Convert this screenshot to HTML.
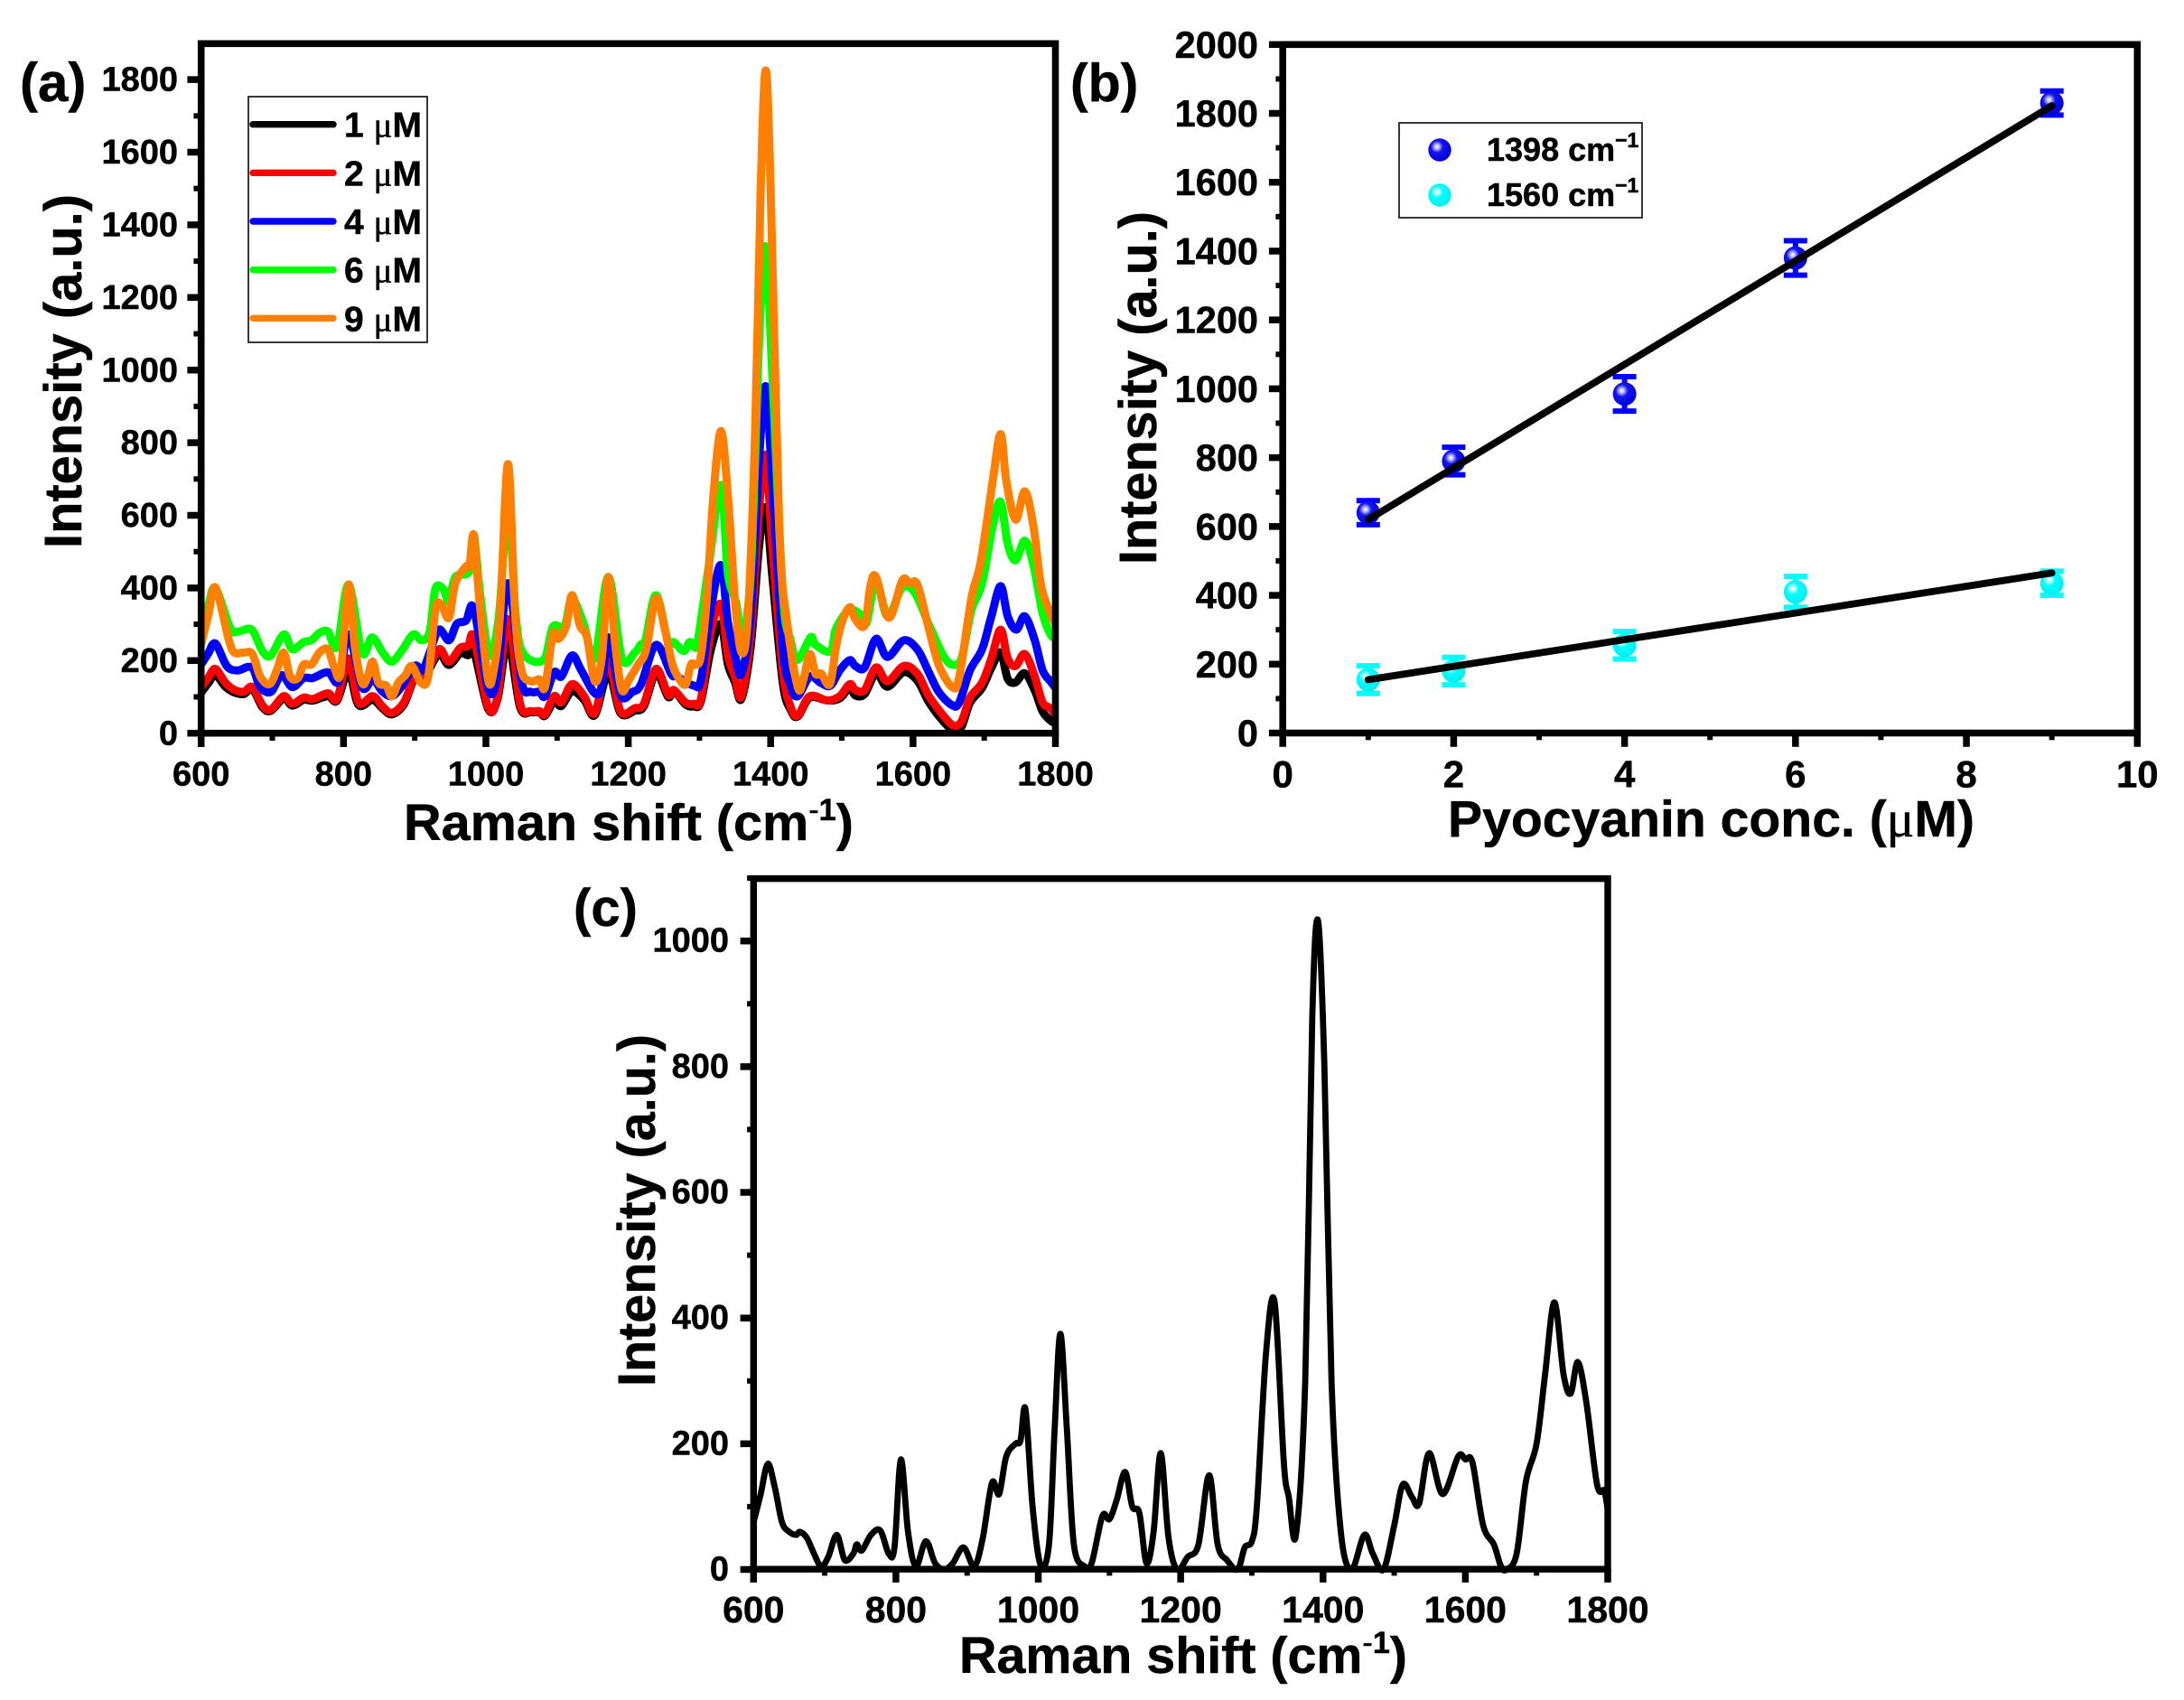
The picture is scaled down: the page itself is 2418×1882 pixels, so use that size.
<!DOCTYPE html>
<html lang="en">
<head>
<meta charset="utf-8">
<title>Raman spectra of pyocyanin</title>
<style>
html,body{margin:0;padding:0;background:#fff;}
svg{display:block;}
text{font-family:"Liberation Sans",Arial,sans-serif;font-weight:700;fill:#000;stroke:#000;stroke-width:.5px;}
.mu{font-family:"Liberation Serif",serif;font-weight:400;}
</style>
</head>
<body>
<svg id="figure" xmlns="http://www.w3.org/2000/svg" width="2418" height="1882" viewBox="0 0 2418 1882">
  <defs>
    <radialGradient id="ballBlue" cx="38%" cy="36%" r="62%">
      <stop offset="0" stop-color="#ffffff"/><stop offset="0.14" stop-color="#c8c8ff"/><stop offset="0.42" stop-color="#1414f0"/><stop offset="1" stop-color="#0000d8"/>
    </radialGradient>
    <radialGradient id="ballCyan" cx="38%" cy="36%" r="62%">
      <stop offset="0" stop-color="#ffffff"/><stop offset="0.14" stop-color="#c8ffff"/><stop offset="0.42" stop-color="#00ffff"/><stop offset="1" stop-color="#00eeee"/>
    </radialGradient>
    <clipPath id="clipA"><rect x="223" y="48" width="946" height="764"/></clipPath>
    <clipPath id="clipC"><rect x="834" y="972" width="946" height="770"/></clipPath>
  </defs>
  <rect width="2418" height="1882" fill="#fff"/>
  <g id="panelA"></g>
  <g id="panelB"></g>
  <g id="panelC"></g>

  <text x="22" y="112" font-size="60">(a)</text>
  <text x="1185" y="112" font-size="59">(b)</text>
  <text x="635" y="1025" font-size="58">(c)</text>

  <text font-size="58" transform="translate(90,607) rotate(-90)" textLength="392" lengthAdjust="spacingAndGlyphs">Intensity (a.u.)</text>
  <text x="447" y="930" font-size="57" textLength="498" lengthAdjust="spacingAndGlyphs">Raman shift (cm<tspan font-size="34" dy="-22" font-weight="400">-</tspan><tspan font-size="34" dy="0">1</tspan><tspan dy="22">)</tspan></text>

  <text font-size="58" transform="translate(1280,625) rotate(-90)" textLength="391" lengthAdjust="spacingAndGlyphs">Intensity (a.u.)</text>
  <text x="1603" y="926" font-size="57" textLength="583" lengthAdjust="spacingAndGlyphs">Pyocyanin conc. (<tspan class="mu">μ</tspan>M)</text>

  <text font-size="58" transform="translate(725,1535) rotate(-90)" textLength="390" lengthAdjust="spacingAndGlyphs">Intensity (a.u.)</text>
  <text x="1062" y="1852" font-size="57" textLength="496" lengthAdjust="spacingAndGlyphs">Raman shift (cm<tspan font-size="34" dy="-22" font-weight="400">-</tspan><tspan font-size="34" dy="0">1</tspan><tspan dy="22">)</tspan></text>

  <g>
    <rect x="275" y="107" width="198" height="272" fill="#fff" stroke="#222" stroke-width="1.8"/>
  </g>
  <g id="legendA"></g>

  <g>
    <rect x="1549" y="136" width="269" height="105" fill="#fff" stroke="#222" stroke-width="1.8"/>
    <circle cx="1594" cy="166" r="12.7" fill="url(#ballBlue)"/>
    <circle cx="1594" cy="216" r="12.7" fill="url(#ballCyan)"/>
    <text x="1646" y="178" font-size="36">1398 cm<tspan font-size="23" dy="-15">−1</tspan></text>
    <text x="1646" y="228" font-size="36">1560 cm<tspan font-size="23" dy="-15">−1</tspan></text>
  </g>
</svg>

<script>
// ---------- Panel (a) data, 1 uM to 9 uM ----------
const xTicksRaman = [600, 800, 1000, 1200, 1400, 1600, 1800];
const xMinorRaman = [700, 900, 1100, 1300, 1500, 1700];
const yTicksA = [0, 200, 400, 600, 800, 1000, 1200, 1400, 1600, 1800];
const yMinorA = [100, 300, 500, 700, 900, 1100, 1300, 1500, 1700];
const legendLabelsA = ['1', '2', '4', '6', '9'];
const seriesColorsA = ['#000000', '#ff0000', '#0000ff', '#00ff00', '#ff8000'];

const shift1uM = [600,610,620,634,647,660,672,686,698,716,728,744,757,778,791,807,821,841,855,868,885,900,915,934,948,964,975,983,1003,1016,1031,1048,1063,1075,1083,1096,1106,1121,1138,1153,1172,1189,1209,1222,1239,1256,1264,1280,1292,1302,1316,1330,1340,1350,1359,1372,1384,1393,1402,1417,1428,1438,1455,1480,1497,1511,1519,1532,1548,1564,1587,1606,1621,1636,1655,1668,1680,1697,1710,1723,1733,1744,1757,1771,1782,1793,1800];
const int1uM = [112,138,160,128,112,108,122,72,62,96,76,92,90,102,90,170,78,92,68,52,80,152,160,218,188,220,215,228,68,92,250,72,58,58,48,88,75,115,92,50,165,56,62,75,165,100,118,80,74,88,230,300,190,140,95,240,520,620,440,140,65,46,98,90,96,125,104,108,165,128,168,145,90,48,10,18,84,125,180,222,150,140,165,118,60,35,28];

const shift2uM = [600,610,620,634,647,660,672,686,698,716,728,744,757,778,791,807,821,841,855,868,885,900,915,934,948,964,975,983,1003,1016,1031,1048,1063,1075,1083,1096,1106,1121,1138,1153,1172,1189,1209,1222,1239,1256,1264,1280,1292,1302,1316,1330,1340,1350,1359,1372,1384,1393,1402,1417,1428,1438,1455,1480,1497,1511,1519,1532,1548,1564,1587,1606,1621,1636,1655,1668,1680,1697,1710,1723,1733,1744,1757,1771,1782,1793,1800];
const int2uM = [127,153,177,139,119,114,127,77,65,102,81,98,94,110,94,206,85,102,73,56,85,156,165,231,197,235,240,264,73,98,314,81,61,61,52,102,85,135,102,56,193,61,69,81,177,106,119,85,81,94,280,355,214,156,102,280,620,765,520,173,73,48,102,90,102,135,119,119,181,143,185,164,106,65,23,32,98,139,206,285,206,185,218,156,85,69,50];

const shift4uM = [600,610,620,636,651,671,683,698,713,728,744,757,778,793,807,826,841,855,868,881,900,911,921,934,948,959,972,983,1003,1016,1031,1050,1063,1075,1083,1096,1106,1121,1134,1153,1163,1172,1189,1206,1218,1239,1260,1268,1292,1302,1316,1330,1340,1350,1359,1372,1384,1393,1402,1417,1428,1438,1455,1470,1484,1497,1511,1519,1532,1548,1564,1587,1606,1621,1636,1655,1665,1680,1697,1710,1723,1733,1745,1757,1771,1782,1793,1800];
const int4uM = [189,220,247,185,173,181,127,114,160,127,152,152,168,143,272,127,148,114,102,127,185,173,222,285,256,301,310,343,123,156,413,143,114,114,102,168,156,214,173,110,131,264,106,114,135,243,164,156,131,148,339,463,305,214,164,330,760,955,700,239,131,102,156,139,131,173,201,185,181,260,210,256,231,173,114,77,85,173,231,322,405,322,285,322,256,173,143,125];

const shift6uM = [600,610,620,641,652,671,686,698,716,728,744,755,766,778,791,807,826,840,855,868,883,898,910,921,929,940,948,957,977,983,992,1005,1018,1031,1042,1053,1081,1094,1110,1121,1138,1153,1172,1191,1209,1217,1224,1239,1256,1264,1278,1286,1292,1298,1315,1330,1340,1352,1359,1372,1384,1393,1402,1417,1428,1438,1456,1463,1484,1492,1510,1527,1535,1548,1564,1585,1602,1621,1636,1645,1655,1668,1682,1697,1712,1723,1733,1744,1757,1769,1782,1793,1800];
const int6uM = [300,352,400,289,280,285,226,214,272,231,251,256,276,280,239,409,222,264,222,197,231,272,256,280,397,397,363,430,447,546,380,214,320,621,320,218,202,293,293,370,297,206,430,206,222,243,256,380,251,251,226,251,239,260,488,683,440,355,256,440,1090,1340,1000,388,256,202,264,243,226,289,339,326,305,421,322,401,388,305,239,206,189,206,339,413,571,637,521,476,530,463,330,272,262];

const shift9uM = [600,610,620,639,647,660,672,683,696,706,716,725,736,744,755,766,778,787,796,807,816,826,834,841,849,860,868,877,887,896,909,919,929,937,948,957,972,977,983,991,1003,1011,1020,1031,1041,1050,1063,1075,1083,1094,1102,1113,1121,1132,1142,1153,1163,1172,1182,1191,1201,1214,1225,1239,1252,1262,1272,1281,1288,1295,1302,1311,1319,1330,1340,1350,1359,1368,1378,1386,1393,1400,1412,1423,1438,1446,1455,1463,1471,1483,1492,1500,1511,1519,1532,1540,1548,1566,1585,1595,1606,1621,1636,1655,1665,1682,1695,1712,1723,1731,1744,1757,1769,1780,1793,1800];
const int9uM = [245,325,401,256,222,222,218,156,135,172,222,156,152,189,189,222,231,181,168,409,239,139,156,197,139,131,102,139,160,185,139,156,339,355,318,413,459,462,546,363,148,173,330,741,330,173,143,148,127,272,260,297,380,297,264,143,210,430,239,119,148,189,230,372,280,189,148,135,189,189,214,388,640,832,654,363,222,320,820,1500,1825,1500,571,305,127,148,218,164,164,135,239,305,347,314,297,405,430,318,421,412,410,297,189,127,156,372,471,695,824,695,588,666,571,405,330,300];

// ---------- Panel (b) data ----------
const concTicks = [0, 2, 4, 6, 8, 10];
const concMinor = [1, 3, 5, 7, 9];
const yTicksB = [0, 200, 400, 600, 800, 1000, 1200, 1400, 1600, 1800, 2000];
const yMinorB = [100, 300, 500, 700, 900, 1100, 1300, 1500, 1700, 1900];
const concentrations = [1, 2, 4, 6, 9];
const peak1398 = [640, 790, 985, 1380, 1830];
const err1398 = [35, 40, 50, 50, 35];
const peak1560 = [155, 180, 255, 410, 435];
const err1560 = [40, 40, 40, 45, 35];
const fitX = [1, 9];
const fit1398 = [620, 1822];
const fit1560 = [155, 465];

// ---------- Panel (c) data ----------
const yTicksC = [0, 200, 400, 600, 800, 1000];
const yMinorC = [100, 300, 500, 700, 900, 1100];
const shiftC = [600,610,620,630,640,650,660,665,675,685,695,705,717,728,740,745,752,765,778,790,798,807,817,828,842,855,868,880,895,910,922,935,945,955,968,975,982,992,1003,1015,1023,1031,1040,1050,1065,1075,1090,1100,1110,1122,1132,1142,1152,1162,1172,1183,1195,1210,1225,1240,1252,1265,1280,1290,1300,1307,1320,1332,1345,1352,1362,1375,1385,1393,1402,1412,1425,1440,1458,1470,1485,1500,1512,1525,1535,1549,1568,1590,1600,1610,1625,1640,1650,1658,1672,1685,1700,1712,1725,1738,1748,1758,1770,1785,1795,1800];
const intC = [75,120,168,130,75,60,55,60,50,25,5,20,55,15,25,40,30,55,62,25,35,175,60,5,45,10,0,10,35,5,50,138,120,180,200,205,255,100,8,40,225,375,225,40,5,10,85,80,110,155,100,90,10,60,185,50,0,20,40,150,40,15,0,35,45,100,345,425,170,115,55,300,880,1032,800,300,60,0,55,25,0,70,135,115,105,185,120,180,175,170,70,40,5,0,25,140,200,310,425,310,280,330,265,135,125,95];

// ---------- Axis geometry and scales ----------
const SVGNS = 'http://www.w3.org/2000/svg';
const geoA = {left:222.7, right:1168.5, top:48.3, bottom:811.7, xMin:600, xMax:1800, yZero:811.7, yPerUnit:0.402};
const geoB = {left:1420.2, right:2366.3, top:49.3, bottom:811.5, xMin:0, xMax:10, yZero:811.5, yPerUnit:0.3811};
const geoC = {left:834.3, right:1780, top:972.7, bottom:1737.2, xMin:600, xMax:1800, yZero:1737.5, yPerUnit:0.6958};
function xScale(g, v) { return g.left + (v - g.xMin) / (g.xMax - g.xMin) * (g.right - g.left); }
function yScale(g, v) { return g.yZero - v * g.yPerUnit; }

function make(tag, parent, name, interactable) {
  const el = document.createElementNS(SVGNS, tag);
  
  
  parent.appendChild(el);
  return el;
}
function drawLine(parent, name, x1, y1, x2, y2, w, color) {
  const l = make('line', parent, name, 'false');
  l.setAttribute('x1', x1); l.setAttribute('y1', y1);
  l.setAttribute('x2', x2); l.setAttribute('y2', y2);
  l.setAttribute('stroke', color || '#000');
  l.setAttribute('stroke-width', w);
  return l;
}
function drawText(parent, name, x, y, size, anchor, str) {
  const t = make('text', parent, name, 'false');
  t.setAttribute('x', x); t.setAttribute('y', y);
  t.setAttribute('font-size', size);
  t.setAttribute('text-anchor', anchor);
  t.textContent = str;
  return t;
}
function drawFrame(parent, g, opt) {
  const frame = make('rect', parent, 'plot-frame', 'false');
  frame.setAttribute('x', g.left); frame.setAttribute('y', g.top);
  frame.setAttribute('width', g.right - g.left); frame.setAttribute('height', g.bottom - g.top);
  frame.setAttribute('fill', 'none');
  frame.setAttribute('stroke', '#000');
  frame.setAttribute('stroke-width', opt.frameW);
}
function drawAxes(parent, g, opt) {
  const half = opt.frameW / 2;
  opt.xTicks.forEach(function (v) {
    const x = xScale(g, v);
    drawLine(parent, 'x-tick-' + v, x, g.bottom, x, g.bottom + half + opt.major, 7.5);
    drawText(parent, 'x-tick-label-' + v, x + (opt.xLabelDx || 0), opt.xBase, opt.xFont, 'middle', String(v));
  });
  opt.xMinor.forEach(function (v) {
    const x = xScale(g, v);
    drawLine(parent, 'x-minor-tick-' + v, x, g.bottom, x, g.bottom + half + opt.minor, 6);
  });
  opt.yTicks.forEach(function (v) {
    const y = yScale(g, v);
    drawLine(parent, 'y-tick-' + v, g.left, y, g.left - half - opt.major, y, 7.5);
    drawText(parent, 'y-tick-label-' + v, opt.yLabelX, y + opt.yDy, opt.yFont, 'end', String(v));
  });
  opt.yMinor.forEach(function (v) {
    const y = yScale(g, v);
    drawLine(parent, 'y-minor-tick-' + v, g.left, y, g.left - half - opt.minor, y, 6);
  });
}
// Smooth curve through the data points (Catmull-Rom converted to Bezier)
function curvePath(g, xs, ys) {
  const pts = xs.map(function (x, i) { return [xScale(g, x), yScale(g, ys[i])]; });
  let d = 'M' + pts[0][0].toFixed(1) + ' ' + pts[0][1].toFixed(1);
  for (let i = 0; i < pts.length - 1; i++) {
    const p0 = pts[Math.max(i - 1, 0)], p1 = pts[i], p2 = pts[i + 1], p3 = pts[Math.min(i + 2, pts.length - 1)];
    const c1x = p1[0] + (p2[0] - p0[0]) / 6, c1y = p1[1] + (p2[1] - p0[1]) / 6;
    const c2x = p2[0] - (p3[0] - p1[0]) / 6, c2y = p2[1] - (p3[1] - p1[1]) / 6;
    d += 'C' + c1x.toFixed(1) + ' ' + c1y.toFixed(1) + ' ' + c2x.toFixed(1) + ' ' + c2y.toFixed(1) + ' ' + p2[0].toFixed(1) + ' ' + p2[1].toFixed(1);
  }
  return d;
}
function drawCurve(parent, g, name, xs, ys, color, w, clip) {
  const p = make('path', parent, name, 'false');
  p.setAttribute('d', curvePath(g, xs, ys));
  p.setAttribute('fill', 'none');
  p.setAttribute('stroke', color);
  p.setAttribute('stroke-width', w);
  p.setAttribute('stroke-linejoin', 'round');
  p.setAttribute('stroke-linecap', 'round');
  p.setAttribute('clip-path', 'url(#' + clip + ')');
}

// ---------- Panel (a) ----------
const panelA = document.getElementById('panelA');
const curvesA = [[shift1uM, int1uM], [shift2uM, int2uM], [shift4uM, int4uM], [shift6uM, int6uM], [shift9uM, int9uM]];
curvesA.forEach(function (c, i) {
  drawCurve(panelA, geoA, 'spectrum-' + legendLabelsA[i] + '-um', c[0], c[1], seriesColorsA[i], 9, 'clipA');
});
drawFrame(panelA, geoA, {frameW: 7.6});
drawAxes(panelA, geoA, {frameW: 7.6, major: 11.5, minor: 4.5, xTicks: xTicksRaman, xMinor: xMinorRaman, yTicks: yTicksA, yMinor: yMinorA, xBase: 869.5, xFont: 38, yLabelX: 197, yDy: 12.6, yFont: 38});

const legendA = document.getElementById('legendA');
legendLabelsA.forEach(function (lab, i) {
  const rowY = 137.7 + i * 53.65;
  const ln = drawLine(legendA, 'legend-line-' + lab + '-um', 280, rowY, 369, rowY, 7.4, seriesColorsA[i]);
  ln.setAttribute('stroke-linecap', 'round');
  const t = drawText(legendA, 'legend-label-' + lab + '-um', 381, rowY + 14, 39, 'start', lab + '\u00a0');
  const mu = document.createElementNS(SVGNS, 'tspan');
  mu.setAttribute('class', 'mu');
  mu.textContent = '\u03bc';
  t.appendChild(mu);
  t.appendChild(document.createTextNode('M'));
});

// ---------- Panel (b) ----------
const panelB = document.getElementById('panelB');
drawFrame(panelB, geoB, {frameW: 7.6});
drawAxes(panelB, geoB, {frameW: 7.6, major: 11.5, minor: 4, xTicks: concTicks, xMinor: concMinor, yTicks: yTicksB, yMinor: yMinorB, xBase: 871.5, xFont: 42, yLabelX: 1393, yDy: 14.5, yFont: 41.5});
function drawPoints(parent, g, tag, xs, ys, errs, color, fill) {
  xs.forEach(function (v, i) {
    const px = xScale(g, v);
    const top = yScale(g, ys[i] + errs[i]), bot = yScale(g, ys[i] - errs[i]);
    drawLine(parent, tag + '-error-bar-' + v, px, top, px, bot, 6, color);
    drawLine(parent, tag + '-error-cap-top-' + v, px - 13, top, px + 13, top, 6, color);
    drawLine(parent, tag + '-error-cap-bottom-' + v, px - 13, bot, px + 13, bot, 6, color);
    const dot = make('circle', parent, tag + '-point-' + v, 'false');
    dot.setAttribute('cx', px);
    dot.setAttribute('cy', yScale(g, ys[i]));
    dot.setAttribute('r', 13);
    dot.setAttribute('fill', fill);
  });
}
drawPoints(panelB, geoB, 'peak-1398', concentrations, peak1398, err1398, '#0000ff', 'url(#ballBlue)');
drawPoints(panelB, geoB, 'peak-1560', concentrations, peak1560, err1560, '#00ffff', 'url(#ballCyan)');
drawLine(panelB, 'fit-line-1398', xScale(geoB, fitX[0]), yScale(geoB, fit1398[0]), xScale(geoB, fitX[1]), yScale(geoB, fit1398[1]), 7.8).setAttribute('stroke-linecap', 'round');
drawLine(panelB, 'fit-line-1560', xScale(geoB, fitX[0]), yScale(geoB, fit1560[0]), xScale(geoB, fitX[1]), yScale(geoB, fit1560[1]), 7.8).setAttribute('stroke-linecap', 'round');

// ---------- Panel (c) ----------
const panelC = document.getElementById('panelC');
drawCurve(panelC, geoC, 'average-spectrum', shiftC, intC, '#000', 6.8, 'clipC');
drawFrame(panelC, geoC, {frameW: 7.4});
drawAxes(panelC, geoC, {frameW: 7.4, major: 11, minor: 3.5, xTicks: xTicksRaman, xMinor: xMinorRaman, yTicks: yTicksC, yMinor: yMinorC, xBase: 1796, xFont: 41, yLabelX: 807, yDy: 12, yFont: 38});
</script>
</body>
</html>
